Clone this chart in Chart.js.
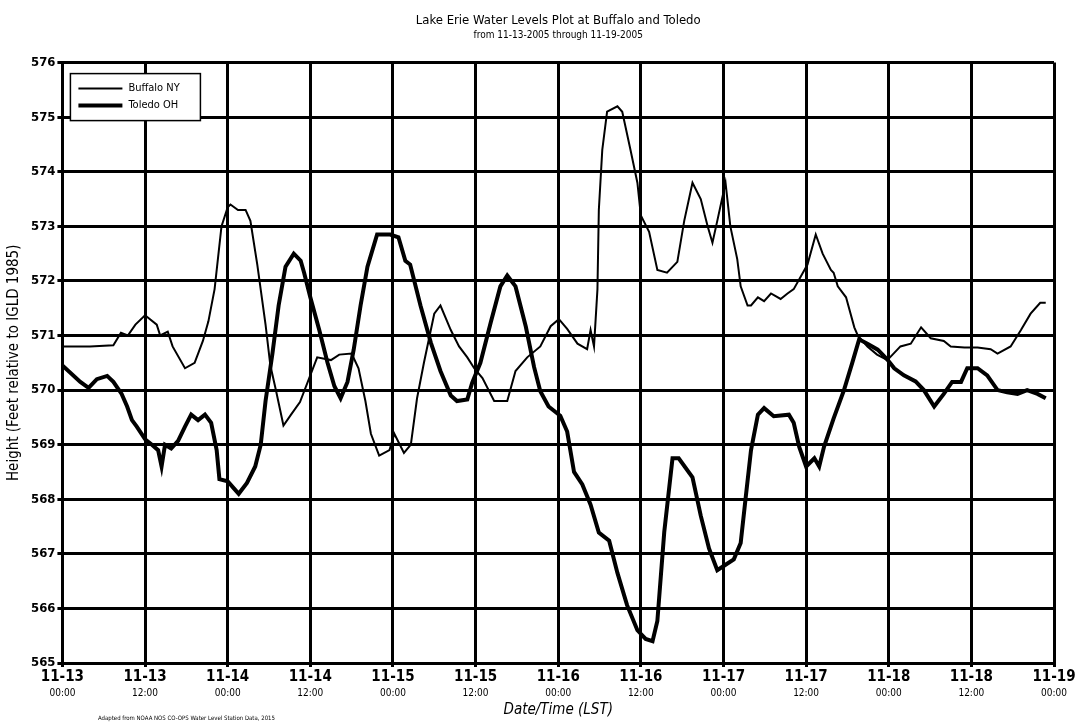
<!DOCTYPE html>
<html>
<head>
<meta charset="utf-8">
<script src="https://cdn.jsdelivr.net/npm/chart.js@4"></script>
<style>
	html, body { margin: 0; padding: 0; background: #fff; }
	#wrap { position: relative; width: 1080px; height: 726px; }
	#note { position: absolute; left: 98px; top: 714px; font: 6px "Liberation Sans Narrow", "DejaVu Sans Condensed", sans-serif; color: #000; }
</style>
</head>
<body>
<div id="wrap">
	<canvas id="chart" width="1080" height="726"></canvas>
	<div id="note">Adapted from NOAA NOS CO-OPS Water Level Station Data, 2015</div>
</div>
<script>
// hours after 11-13 00:00
let buffaloHours = [0, 4, 7.4, 8.5, 9.5, 10.6, 12, 13.7, 14.2, 15.3, 16, 17.8, 19.2, 20.4, 21.2, 22.1, 23.1, 24, 24.4, 25.5, 26.6, 27.3, 28.3, 29.5, 30.2, 31, 32.1, 33.2, 34.5, 37, 39, 40.2, 42, 43, 44, 44.8, 46, 47.5, 48.2, 49.6, 50.6, 51.5, 52.5, 54, 54.9, 56.4, 57.6, 58.8, 59.8, 61, 62.7, 64.6, 65.8, 67.5, 69.4, 70.9, 72.1, 73.3, 74.8, 76.2, 76.7, 77.2, 77.7, 77.9, 78.4, 79.1, 80.6, 81.3, 82.5, 83.5, 84, 85.2, 86.4, 87.8, 89.3, 90.3, 91.5, 92.7, 93.7, 94.4, 95.1, 96.3, 97, 98, 98.5, 99.5, 100, 101, 101.9, 102.9, 104.3, 105.3, 106.2, 108.2, 109.4, 110.4, 111.6, 112, 112.6, 113.8, 115, 115.5, 116.9, 118.3, 119.8, 121.7, 123.2, 124.7, 126.1, 128, 129, 131, 132.9, 134.8, 135.8, 137.7, 139.2, 140.6, 142, 142.8];
let buffaloLevels = [570.8, 570.8, 570.82, 571.05, 571.0, 571.2, 571.37, 571.2, 571.0, 571.07, 570.8, 570.4, 570.5, 570.9, 571.26, 571.85, 573.0, 573.35, 573.4, 573.3, 573.3, 573.1, 572.3, 571.2, 570.45, 570.0, 569.35, 569.55, 569.78, 570.6, 570.55, 570.65, 570.67, 570.4, 569.8, 569.2, 568.8, 568.9, 569.2, 568.85, 569.0, 569.85, 570.5, 571.4, 571.55, 571.1, 570.8, 570.6, 570.4, 570.22, 569.8, 569.8, 570.35, 570.6, 570.8, 571.17, 571.3, 571.12, 570.85, 570.75, 571.1, 570.8, 571.85, 573.3, 574.4, 575.1, 575.2, 575.1, 574.4, 573.8, 573.2, 572.9, 572.2, 572.15, 572.35, 573.1, 573.8, 573.5, 573.0, 572.7, 573.1, 573.8, 573.0, 572.4, 571.9, 571.55, 571.55, 571.7, 571.63, 571.77, 571.67, 571.77, 571.85, 572.3, 572.85, 572.5, 572.2, 572.15, 571.9, 571.7, 571.15, 571.0, 570.8, 570.65, 570.55, 570.8, 570.85, 571.15, 570.95, 570.9, 570.8, 570.78, 570.78, 570.75, 570.67, 570.8, 571.1, 571.4, 571.6, 571.6];

let toledoHours = [0, 2.6, 3.8, 5, 6.5, 7.4, 8.6, 9.4, 10.1, 10.8, 12, 13, 13.9, 14.4, 14.9, 15.8, 16.8, 17.8, 18.7, 19.7, 20.7, 21.6, 22.4, 22.8, 24, 24.9, 25.6, 26.8, 28, 28.8, 29.5, 30.5, 31.4, 32.4, 33.6, 34.6, 35.1, 36, 37.3, 38.5, 39.5, 40.4, 41.4, 42.3, 43.3, 44.3, 45.7, 47.6, 48.8, 49.8, 50.5, 52, 53.5, 54.9, 56.4, 57.3, 58.8, 59.5, 60.7, 62.2, 63.6, 64.6, 65.8, 67.3, 68.5, 69.4, 70.6, 72.3, 73.3, 74.3, 75.5, 76.7, 77.9, 79.4, 80.6, 82, 83.5, 84.7, 85.7, 86.4, 87.4, 88.6, 89.5, 91.5, 92.7, 93.9, 95.1, 96.3, 97.5, 98.5, 99.2, 100, 101, 101.9, 103.3, 105.5, 106.2, 107, 108, 109.2, 109.9, 110.6, 112, 113.5, 114.7, 115.7, 116.9, 118.4, 119.8, 120.8, 122.2, 123.9, 125.1, 126.6, 128, 129.2, 130.5, 131.4, 132.9, 134.3, 135.8, 137.2, 138.7, 140.1, 141.6, 142.8];
let toledoLevels = [570.45, 570.15, 570.04, 570.2, 570.26, 570.15, 569.93, 569.7, 569.45, 569.33, 569.1, 569.0, 568.9, 568.6, 569.0, 568.93, 569.07, 569.33, 569.55, 569.45, 569.55, 569.4, 568.9, 568.37, 568.33, 568.2, 568.1, 568.3, 568.6, 569.0, 569.8, 570.67, 571.55, 572.26, 572.5, 572.37, 572.15, 571.7, 571.1, 570.5, 570.07, 569.85, 570.15, 570.74, 571.55, 572.26, 572.85, 572.85, 572.8, 572.37, 572.3, 571.55, 570.87, 570.35, 569.9, 569.8, 569.83, 570.13, 570.5, 571.24, 571.9, 572.1, 571.9, 571.16, 570.42, 569.98, 569.7, 569.53, 569.24, 568.5, 568.27, 567.9, 567.39, 567.24, 566.65, 566.06, 565.6, 565.44, 565.4, 565.77, 567.4, 568.75, 568.75, 568.4, 567.7, 567.1, 566.7, 566.8, 566.9, 567.2, 568.0, 568.9, 569.55, 569.67, 569.52, 569.55, 569.4, 568.96, 568.6, 568.75, 568.6, 568.96, 569.48, 570.0, 570.5, 570.93, 570.85, 570.74, 570.56, 570.4, 570.27, 570.16, 570.0, 569.7, 569.93, 570.15, 570.15, 570.4, 570.4, 570.27, 570.0, 569.96, 569.93, 570.0, 569.93, 569.85];

let dateLabels = ["11-13", "11-13", "11-14", "11-14", "11-15", "11-15", "11-16", "11-16", "11-17", "11-17", "11-18", "11-18", "11-19"];
let timeLabels = ["00:00", "12:00", "00:00", "12:00", "00:00", "12:00", "00:00", "12:00", "00:00", "12:00", "00:00", "12:00", "00:00"];

const FONT = "'Liberation Sans Narrow', 'DejaVu Sans Condensed', sans-serif";

function toPoints(hours, levels) {
	return hours.map((h, i) => ({ x: h, y: levels[i] }));
}

// legend box drawn inside the plot, top left
const insideLegend = {
	id: "insideLegend",
	afterDatasetsDraw(chart) {
		const c = chart.ctx;
		const a = chart.chartArea;
		const x = a.left + 8, y = a.top + 11, w = 130, h = 47;
		c.save();
		c.fillStyle = "#fff";
		c.fillRect(x, y, w, h);
		c.strokeStyle = "#000";
		c.lineWidth = 1.5;
		c.strokeRect(x, y, w, h);
		c.font = "11px " + FONT;
		c.textBaseline = "middle";
		chart.data.datasets.forEach((ds, i) => {
			const ly = y + 15 + i * 17;
			c.beginPath();
			c.lineWidth = ds.borderWidth;
			c.moveTo(x + 8, ly);
			c.lineTo(x + 52, ly);
			c.stroke();
			c.fillStyle = "#000";
			c.fillText(ds.label, x + 58, ly);
		});
		c.restore();
	}
};

let ctx = document.getElementById("chart");
let data = {
	datasets: [{
		label: "Buffalo NY",
		data: toPoints(buffaloHours, buffaloLevels),
		borderColor: "#000",
		borderWidth: 2,
		pointRadius: 0,
		tension: 0,
		showLine: true
	}, {
		label: "Toledo OH",
		data: toPoints(toledoHours, toledoLevels),
		borderColor: "#000",
		borderWidth: 4,
		pointRadius: 0,
		tension: 0,
		showLine: true
	}]
};
const config = {
	type: "scatter",
	data: data,
	plugins: [insideLegend],
	options: {
		responsive: false,
		animation: false,
		layout: {
			padding: { left: 5, right: 26, top: 7, bottom: 7 }
		},
		plugins: {
			legend: { display: false },
			tooltip: { enabled: false },
			title: {
				display: true,
				fullSize: false,
				text: "Lake Erie Water Levels Plot at Buffalo and Toledo",
				color: "#000",
				font: { family: FONT, size: 13, weight: "normal" },
				padding: { top: 6, bottom: 1 }
			},
			subtitle: {
				display: true,
				fullSize: false,
				text: "from 11-13-2005 through 11-19-2005",
				color: "#000",
				font: { family: FONT, size: 10 },
				padding: { top: 0, bottom: 21 }
			}
		},
		scales: {
			x: {
				type: "linear",
				position: "bottom",
				min: 0,
				max: 144,
				grid: { color: "#000", lineWidth: 3, tickLength: 4 },
				border: { color: "#000", width: 3 },
				ticks: {
					stepSize: 12,
					autoSkip: false,
					maxRotation: 0,
					padding: 1,
					color: "#000",
					font: { family: FONT, size: 15, weight: "bold" },
					callback: (v) => dateLabels[Math.round(v / 12)]
				}
			},
			x2: {
				type: "linear",
				position: "bottom",
				min: 0,
				max: 144,
				grid: { display: false, drawTicks: false },
				border: { display: false },
				ticks: {
					stepSize: 12,
					autoSkip: false,
					maxRotation: 0,
					padding: 0,
					color: "#000",
					font: { family: FONT, size: 10 },
					callback: (v) => timeLabels[Math.round(v / 12)]
				},
				title: {
					display: true,
					text: "Date/Time (LST)",
					color: "#000",
					font: { family: FONT, size: 15, style: "italic" },
					padding: { top: 2, bottom: 0 }
				}
			},
			y: {
				min: 565,
				max: 576,
				grid: { color: "#000", lineWidth: 3, tickLength: 5 },
				border: { color: "#000", width: 3 },
				ticks: {
					stepSize: 1,
					padding: 2,
					color: "#000",
					font: { family: FONT, size: 13, weight: "bold" }
				},
				title: {
					display: true,
					text: "Height (Feet relative to IGLD 1985)",
					color: "#000",
					font: { family: FONT, size: 15 },
					padding: { top: 0, bottom: 6 }
				}
			}
		}
	}
};
let chart = new Chart(ctx, config);
</script>
</body>
</html>
